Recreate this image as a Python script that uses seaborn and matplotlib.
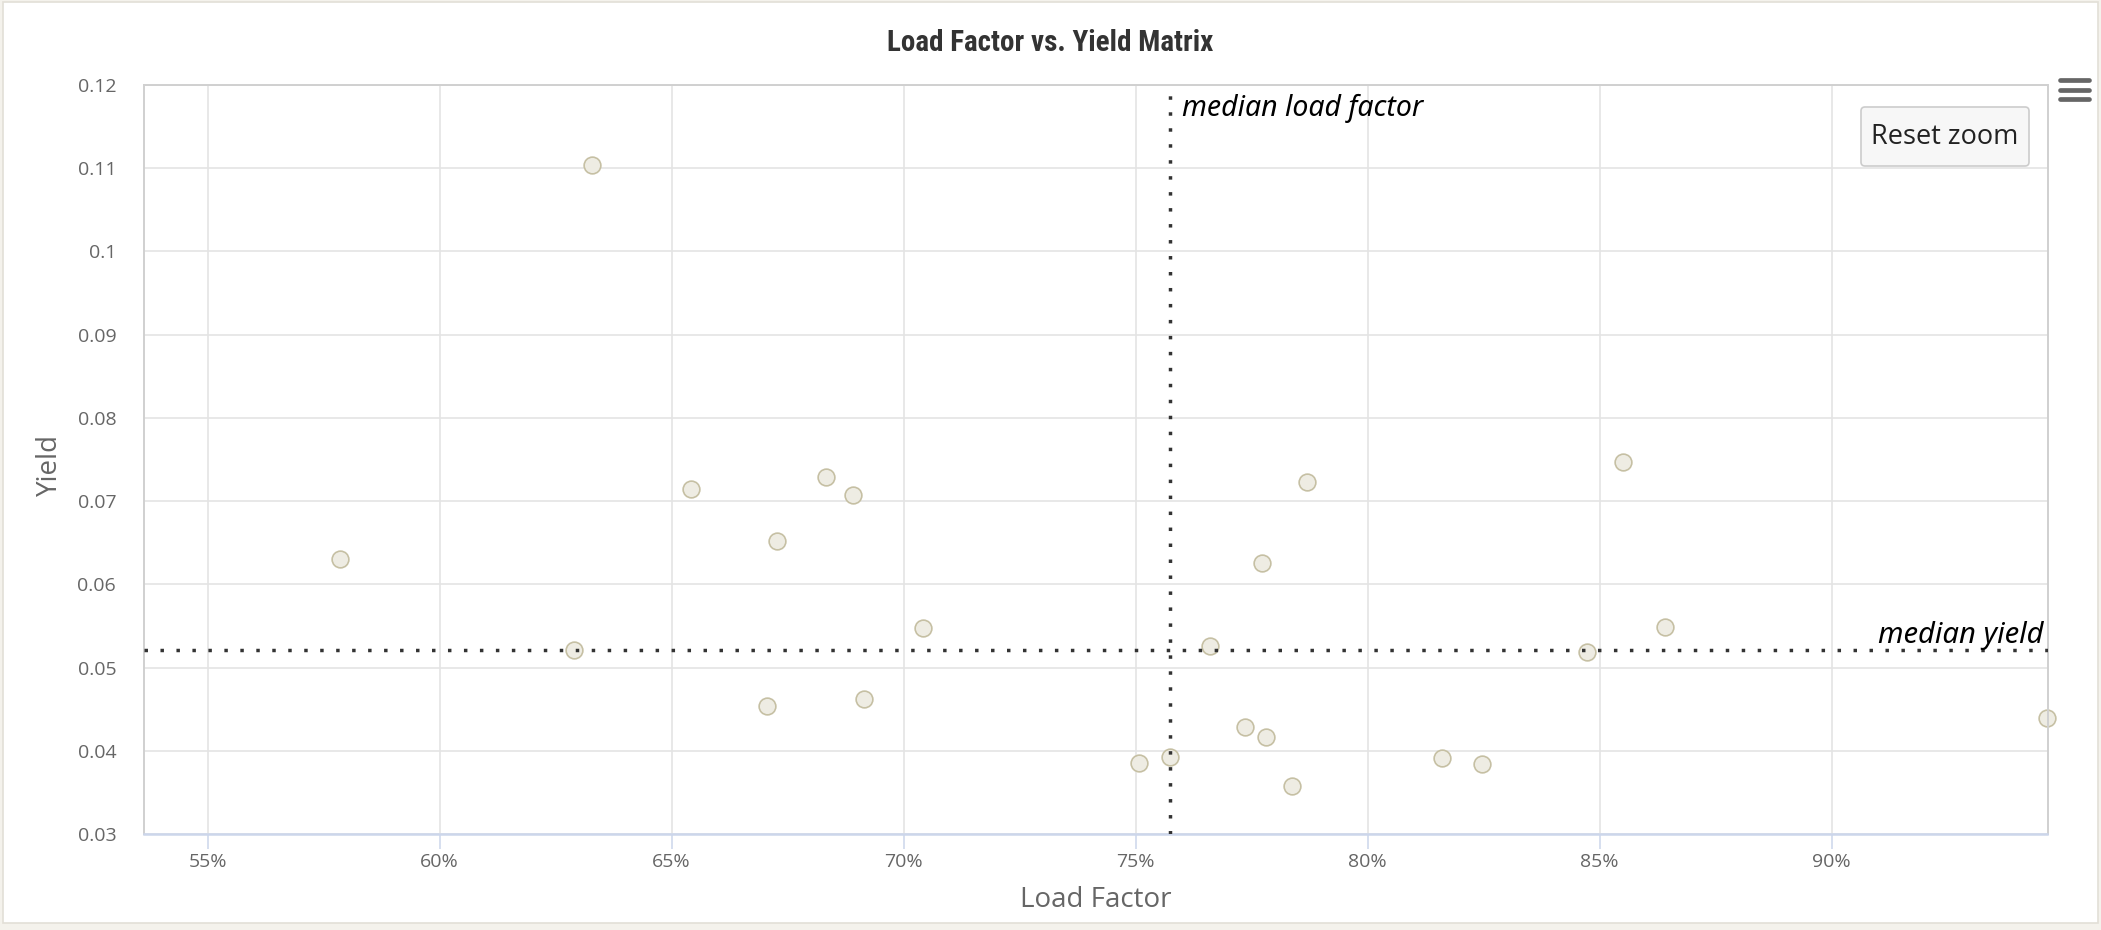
import matplotlib
matplotlib.use("Agg")
import matplotlib.pyplot as plt
import seaborn as sns
import pandas as pd
from matplotlib import font_manager
from matplotlib.patches import Rectangle, FancyBboxPatch
from matplotlib.lines import Line2D
from matplotlib.transforms import IdentityTransform
from matplotlib.ticker import FixedLocator

# ---------------- data ----------------
load_factor_pct = [57.85, 62.89, 63.29, 65.42, 67.06, 67.27, 68.33, 68.91, 69.15, 70.42,
                   75.08, 75.75, 76.61, 77.35, 77.72, 77.80, 78.37, 78.70, 81.61, 82.47,
                   84.73, 85.50, 86.40, 94.65]
yield_values = [0.0630, 0.0521, 0.1104, 0.0714, 0.0454, 0.0652, 0.0729, 0.0707, 0.0462, 0.0548,
                0.0385, 0.0392, 0.0526, 0.0429, 0.0626, 0.0416, 0.0358, 0.0723, 0.0391, 0.0384,
                0.0519, 0.0747, 0.0549, 0.0439]
median_load_factor = 75.75
median_yield = 0.0521
x_ticks = [55, 60, 65, 70, 75, 80, 85, 90]
x_tick_labels = ["55%", "60%", "65%", "70%", "75%", "80%", "85%", "90%"]
y_ticks = [0.03, 0.04, 0.05, 0.06, 0.07, 0.08, 0.09, 0.10, 0.11, 0.12]
y_tick_labels = ["0.03", "0.04", "0.05", "0.06", "0.07", "0.08", "0.09", "0.1", "0.11", "0.12"]
x_range = (53.63, 94.65)
y_range = (0.03, 0.12)
title = "Load Factor vs. Yield Matrix"
x_title = "Load Factor"
y_title = "Yield"

df = pd.DataFrame({"load_factor": load_factor_pct, "yield": yield_values})

# ---------------- fonts ----------------
names = {f.name for f in font_manager.fontManager.ttflist}
def pick(*cands):
    for c in cands:
        if c in names:
            return c
    return "DejaVu Sans"

label_font = pick("Open Sans", "Noto Sans", "DejaVu Sans")
title_font = pick("Roboto Condensed", "Liberation Sans Narrow", "Open Sans Condensed", "Roboto", "Open Sans")
italic_font = pick("Noto Sans", "Open Sans", "DejaVu Sans")

sns.set_theme(style="white")
plt.rcParams["font.family"] = [label_font, "DejaVu Sans"]

W, H = 2101, 930
fig = plt.figure(figsize=(W / 100, H / 100), dpi=100)
fig.patch.set_facecolor("#f4f2ec")

# outer white container
fig.add_artist(Rectangle((3, 7), 2095, 921, transform=IdentityTransform(),
                         facecolor="white", edgecolor="#e2dfd7", linewidth=1.2, zorder=-5))

ax = fig.add_axes([144 / W, 1 - 834 / H, 1903.5 / W, 749 / H])
ax.set_facecolor("white")

sns.scatterplot(data=df, x="load_factor", y="yield", ax=ax, s=145, color="#eeece3",
                edgecolor="#c6c0a4", linewidth=1.2, zorder=2, clip_on=False, legend=False)

ax.axvline(median_load_factor, color="#333333", linewidth=2.5, linestyle=(0, (1, 3.6)), zorder=3)
ax.axhline(median_yield, color="#333333", linewidth=2.5, linestyle=(0, (1, 3.6)), zorder=3)

ax.set_xlim(*x_range)
ax.set_ylim(*y_range)
ax.xaxis.set_major_locator(FixedLocator(x_ticks))
ax.set_xticklabels(x_tick_labels)
ax.yaxis.set_major_locator(FixedLocator(y_ticks))
ax.set_yticklabels(y_tick_labels)

ax.grid(True, color="#e4e4e4", linewidth=1.2)
ax.set_axisbelow(True)

ax.tick_params(axis="x", length=11, width=1.1, color="#ccd6eb", direction="out",
               labelsize=14, labelcolor="#666666", pad=3, bottom=True)
ax.tick_params(axis="y", length=0, labelsize=14, labelcolor="#666666", pad=20, left=True)

for side in ["left", "top", "right"]:
    ax.spines[side].set_color("#d0d0d0")
    ax.spines[side].set_linewidth(1.4)
ax.spines["bottom"].set_color("#ccd6eb")
ax.spines["bottom"].set_linewidth(1.8)

ax.set_xlabel(x_title, fontsize=20, color="#666666")
ax.xaxis.label.set_va("baseline")
ax.xaxis.set_label_coords(0.5, (834 - 907) / 749)
ax.set_ylabel(y_title, fontsize=20, color="#666666")
ax.yaxis.label.set_va("center")
ax.yaxis.set_label_coords((50 - 144) / 1903.5, (834 - 465) / 749)

ax.annotate("median load factor", xy=(median_load_factor, y_range[1]), xycoords="data",
            xytext=(8, -22), textcoords="offset points", ha="left", va="baseline",
            fontsize=20.5, fontstyle="italic", color="black", family=[italic_font, "DejaVu Sans"],
            zorder=4)
ax.annotate("median yield", xy=(x_range[1], median_yield), xycoords="data",
            xytext=(-3, 5), textcoords="offset points", ha="right", va="baseline",
            fontsize=21, fontstyle="italic", color="black", family=[italic_font, "DejaVu Sans"],
            zorder=4)

fig.text(0.5, 1 - 51 / H, title, ha="center", va="baseline", fontsize=21,
         fontweight="bold", color="#333333", family=[title_font, "DejaVu Sans"])

# Reset zoom button
fig.add_artist(FancyBboxPatch((1861, H - 166), 168, 59, boxstyle="round,pad=0,rounding_size=4",
                              transform=IdentityTransform(), facecolor="#f7f7f7",
                              edgecolor="#cccccc", linewidth=1.2, zorder=5))
fig.text(1945 / W, 1 - 137 / H, "Reset zoom", ha="center", va="center", fontsize=19.5,
         color="#222222", zorder=6)

# context menu icon
for yy in (80, 89.5, 99):
    fig.add_artist(Line2D([2060, 2089], [H - yy, H - yy], transform=IdentityTransform(),
                          color="#666666", linewidth=3.4, solid_capstyle="round", zorder=5))

fig.savefig("out.png", dpi=100, facecolor=fig.get_facecolor())
